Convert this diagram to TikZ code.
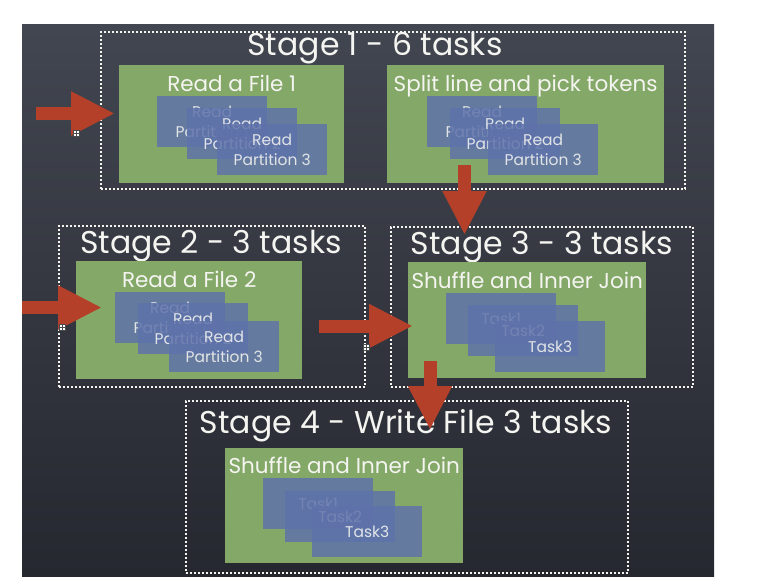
\documentclass[tikz,border=0pt]{standalone}
\usepackage{fontspec}
\setmainfont{Poppins}
\usepackage{tikz}
\usetikzlibrary{arrows.meta,positioning,calc}
\definecolor{boardtop}{RGB}{66,70,80}
\definecolor{boardbot}{RGB}{38,40,48}
\definecolor{chalk}{RGB}{244,244,240}
\definecolor{cGrn}{RGB}{132,168,104}
\definecolor{cCard}{RGB}{94,114,170}
\definecolor{cArr}{RGB}{181,64,42}
\tikzset{
  stagebox/.style={draw=chalk,line width=1.8pt,dash pattern=on 1.8pt off 2.2pt,
    anchor=north west,inner sep=0pt},
  grn/.style={fill=cGrn,anchor=north west,inner sep=0pt},
  ttl/.style={text=chalk,inner sep=0pt,text height=22pt,text depth=7pt,
    font=\fontsize{31.5}{34}\selectfont},
  lbl/.style={text=chalk,inner sep=0pt,text height=15pt,text depth=4pt,
    font=\fontsize{21.5}{24}\selectfont},
  card/.style={fill=cCard,fill opacity=.84,text opacity=.88,text=chalk,
    anchor=north west,minimum width=110pt,minimum height=51pt,inner sep=0pt,
    align=center,font=\fontsize{15.5}{20}\selectfont},
  blk/.style={draw=cArr,line width=13pt,-{Triangle[length=44pt,width=41pt]}},
  hdl/.style={draw=black!70,fill=white,minimum size=6pt,inner sep=0pt,line width=.5pt,
    path picture={\draw[black!70,line width=.5pt]
      (path picture bounding box.north) -- (path picture bounding box.south)
      (path picture bounding box.west) -- (path picture bounding box.east);}},
}

\begin{document}
\begin{tikzpicture}[x=1pt,y=-1pt]
  \useasboundingbox (0,0) rectangle (776,584);
  \fill[white] (0,0) rectangle (776,584);
  \shade[top color=boardtop,bottom color=boardbot] (22,24) rectangle (714,576);
  % stages
  \node[stagebox,minimum width=584pt,minimum height=157pt] (s1) at (100,31) {};
  \node[stagebox,minimum width=306pt,minimum height=161pt] (s2) at (58,225) {};
  \node[stagebox,minimum width=302pt,minimum height=160pt] (s3) at (390,226) {};
  \node[stagebox,minimum width=442pt,minimum height=172pt] (s4) at (185,400) {};
  \node[ttl] (t1) at (375,48)  {Stage 1 - 6 tasks};
  \node[ttl] (t2) at (211,246) {Stage 2 - 3 tasks};
  \node[ttl] (t3) at (542,247) {Stage 3 - 3 tasks};
  \node[ttl] (t4) at (406,426) {Stage 4 - Write File 3 tasks};
  % green task sets
  \node[grn,minimum width=225pt,minimum height=118pt] (g1) at (119,65) {};
  \node[grn,minimum width=277pt,minimum height=118pt] (g2) at (387,65) {};
  \node[grn,minimum width=226pt,minimum height=118pt] (g5) at (76,261) {};
  \node[grn,minimum width=238pt,minimum height=116pt] (g3) at (408,262) {};
  \node[grn,minimum width=238pt,minimum height=115pt] (g4) at (225,448) {};
  \node[lbl] (l1) at ($(g1.north)+(0,21)$) {Read a File 1};
  \node[lbl] (l2) at ($(g2.north)+(0,21)$) {Split line and pick tokens};
  \node[lbl] (l5) at ($(g5.north)+(0,21)$) {Read a File 2};
  \node[lbl] (l3) at ($(g3.north)+(0,21)$) {Shuffle and Inner Join};
  \node[lbl] (l4) at ($(g4.north)+(0,20)$) {Shuffle and Inner Join};
  % partitions / tasks
  \node[card] (c1a) at (157,96)  {Read\\Partition 1};
  \node[card] (c1b) at (187,108) {Read\\Partition 2};
  \node[card] (c1c) at (217,124) {Read\\Partition 3};
  \node[card] (c2a) at (427,96)  {Read\\Partition 1};
  \node[card] (c2b) at (450,108) {Read\\Partition 2};
  \node[card] (c2c) at (488,124) {Read\\Partition 3};
  \node[card] (c5a) at (115,292) {Read\\Partition 1};
  \node[card] (c5b) at (138,303) {Read\\Partition 2};
  \node[card] (c5c) at (169,321) {Read\\Partition 3};
  \node[card] (c3a) at (446,293) {Task1};
  \node[card] (c3b) at (468,305) {Task2};
  \node[card] (c3c) at (495,321) {Task3};
  \node[card] (c4a) at (263,478) {Task1};
  \node[card] (c4b) at (285,491) {Task2};
  \node[card] (c4c) at (312,506) {Task3};
  % flow
  \coordinate (in1) at (36,113.5);
  \coordinate (in2) at (22,307.5);
  \coordinate (a3)  at (319,326);
  \coordinate (a4)  at (464.5,165);
  \coordinate (a5)  at (430,361);
  \draw[blk] (in1) -- ($(in1 -| g1.west)+(-4,0)$);
  \draw[blk] (in2) -- ($(in2 -| g5.west)+(26,0)$);
  \draw[blk] (a3)  -- ($(a3 -| g3.west)+(5,0)$);
  \draw[blk] (a4)  -- ($(a4 |- s3.north)+(0,9)$);
  \draw[blk] (a5)  -- ($(a5 |- s4.north)+(0,30)$);
  \node[hdl] (h1) at (76,133) {};
  \node[hdl] (h2) at (62,327) {};
  \node[hdl] (h3) at (366,347) {};
\end{tikzpicture}
\end{document}
